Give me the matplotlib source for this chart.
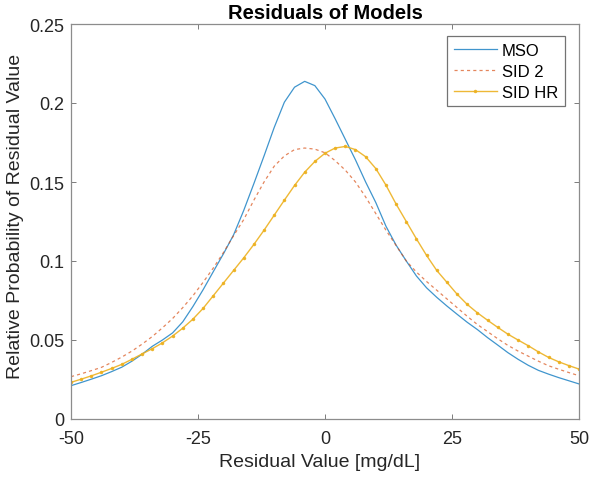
import numpy as np
import matplotlib
matplotlib.use('Agg')
import matplotlib.pyplot as plt

plt.rcParams['font.family'] = ['Liberation Sans', 'DejaVu Sans']

# residual value grid [mg/dL]
residual = [-50, -48, -46, -44, -42, -40, -38, -36, -34, -32,
            -30, -28, -26, -24, -22, -20, -18, -16, -14, -12,
            -10, -8, -6, -4, -2, 0, 2, 4, 6, 8,
            10, 12, 14, 16, 18, 20, 22, 24, 26, 28,
            30, 32, 34, 36, 38, 40, 42, 44, 46, 48, 50]

mso = [0.0211, 0.0231, 0.0252, 0.0274, 0.0300, 0.0328, 0.0366, 0.0410, 0.0460, 0.0500,
       0.0545, 0.0615, 0.0712, 0.0818, 0.0932, 0.1045, 0.1165, 0.1320, 0.1490, 0.1665,
       0.1845, 0.2005, 0.2100, 0.2137, 0.2110, 0.2025, 0.1900, 0.1770, 0.1640, 0.1500,
       0.1370, 0.1220, 0.1100, 0.1000, 0.0905, 0.0830, 0.0770, 0.0715, 0.0663, 0.0612,
       0.0566, 0.0515, 0.0468, 0.0420, 0.0378, 0.0340, 0.0308, 0.0284, 0.0262, 0.0242, 0.0222]

sid2 = [0.0268, 0.0286, 0.0306, 0.0327, 0.0358, 0.0392, 0.0430, 0.0474, 0.0522, 0.0577,
        0.0636, 0.0705, 0.0780, 0.0865, 0.0955, 0.1053, 0.1160, 0.1262, 0.1385, 0.1500,
        0.1600, 0.1665, 0.1705, 0.1715, 0.1708, 0.1685, 0.1635, 0.1575, 0.1500, 0.1405,
        0.1300, 0.1195, 0.1098, 0.1000, 0.0930, 0.0870, 0.0815, 0.0760, 0.0705, 0.0650,
        0.0598, 0.0553, 0.0508, 0.0466, 0.0430, 0.0398, 0.0366, 0.0337, 0.0315, 0.0294, 0.0274]

sid_hr = [0.0232, 0.0252, 0.0273, 0.0296, 0.0320, 0.0346, 0.0378, 0.0412, 0.0445, 0.0482,
          0.0525, 0.0575, 0.0632, 0.0700, 0.0780, 0.0860, 0.0940, 0.1020, 0.1105, 0.1195,
          0.1290, 0.1385, 0.1478, 0.1562, 0.1630, 0.1682, 0.1715, 0.1725, 0.1705, 0.1660,
          0.1585, 0.1480, 0.1360, 0.1250, 0.1140, 0.1035, 0.0940, 0.0865, 0.0790, 0.0725,
          0.0672, 0.0625, 0.0580, 0.0537, 0.0500, 0.0464, 0.0425, 0.0390, 0.0362, 0.0338, 0.0316]

fig = plt.figure(figsize=(5.92, 4.81), dpi=100)
ax = fig.add_axes([71 / 592, 61 / 481, 508 / 592, 395 / 481])

ax.plot(residual, mso, color='#0072BD', lw=0.9, alpha=0.75, label='MSO')
ax.plot(residual, sid2, color='#D95319', lw=0.9, alpha=0.7, dashes=(2.5, 2.5), label='SID 2')
ax.plot(residual, sid_hr, color='#EDB120', lw=1.0, marker='.', markersize=3,
        alpha=0.9, label='SID HR')

ax.set_xlim(-50, 50)
ax.set_ylim(0, 0.25)
ax.set_xticks([-50, -25, 0, 25, 50])
ax.set_xticklabels(['-50', '-25', '0', '25', '50'])
ax.set_yticks([0, 0.05, 0.1, 0.15, 0.2, 0.25])
ax.set_yticklabels(['0', '0.05', '0.1', '0.15', '0.2', '0.25'])
ax.tick_params(direction='in', length=3.8, width=0.6, color='0.4',
               labelsize=13, labelcolor='0.15', top=True, right=True)
ax.tick_params(axis='x', pad=8)
ax.tick_params(axis='y', pad=5)
for s in ax.spines.values():
    s.set_color('0.55')
    s.set_linewidth(0.9)

ax.set_xlabel('Residual Value [mg/dL]', fontsize=14, color='0.15')
ax.xaxis.set_label_coords(0.49, -0.085)
ax.set_ylabel('Relative Probability of Residual Value', fontsize=14, color='0.15')
ax.yaxis.set_label_coords(-0.093, 0.515)
ax.set_title('Residuals of Models', fontsize=14.5, fontweight='bold', pad=4)

leg = ax.legend(loc='upper right', fontsize=12, fancybox=False, framealpha=1,
                edgecolor='0.45', handlelength=2.6, handletextpad=0.3,
                labelspacing=0.36, borderpad=0.4, borderaxespad=0,
                bbox_to_anchor=((565 - 71) / 508, (420 - 37) / 395))
leg.get_frame().set_linewidth(0.9)

fig.savefig('out.png', dpi=100)
